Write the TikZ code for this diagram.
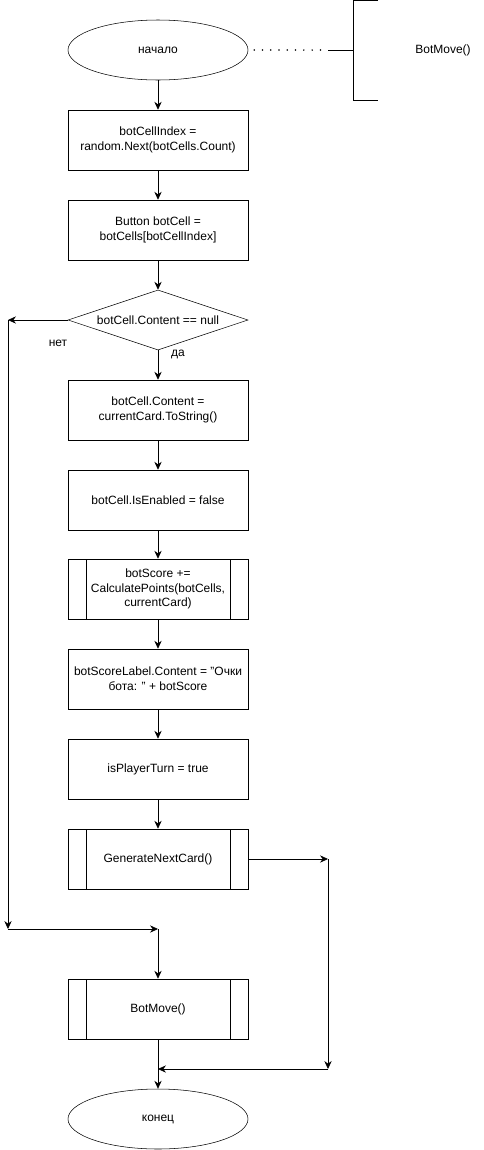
\documentclass[tikz,border=0pt]{standalone}
\usepackage{fontspec}
\setmainfont{Liberation Sans}
\usetikzlibrary{arrows.meta,shapes.geometric}

\tikzset{
  block/.style={draw, minimum width=135pt, minimum height=45pt, inner sep=1pt, align=center, font=\fontsize{9pt}{11pt}\selectfont},
  subproc/.style={block, path picture={
      \draw ([xshift=13.5pt]path picture bounding box.north west) -- ([xshift=13.5pt]path picture bounding box.south west);
      \draw ([xshift=-13.5pt]path picture bounding box.north east) -- ([xshift=-13.5pt]path picture bounding box.south east);}},
  term/.style={draw, ellipse, minimum width=135pt, minimum height=45pt, inner sep=0pt, font=\fontsize{9pt}{11pt}\selectfont},
  cond/.style={draw, diamond, aspect=3, minimum width=135pt, minimum height=45pt, inner sep=0pt, font=\fontsize{9pt}{11pt}\selectfont},
  lbl/.style={font=\fontsize{9pt}{11pt}\selectfont, inner sep=0.75pt},
  flow/.style={-{Stealth[length=6pt,width=5.5pt,inset=2pt]}, line width=0.6pt},
}

\begin{document}
\begin{tikzpicture}[x=0.75pt,y=0.75pt,yscale=-1,xscale=1]
        \useasboundingbox (0,0) rectangle (484,1150);

        % Blocks
        \node [term] (start) at (158,50) {начало};
        \node [block] (idx) at (158,140) {botCellIndex =\\random.Next(botCells.Count)};
        \node [block] (cell) at (158,230) {Button botCell =\\botCells[botCellIndex]};
        \node [cond] (chk) at (158,320) {botCell.Content == null};
        \node [block] (cont) at (158,410) {botCell.Content =\\currentCard.ToString()};
        \node [block] (dis) at (158,500) {botCell.IsEnabled = false};
        \node [subproc] (score) at (158,589) {botScore +=\\CalculatePoints(botCells,\\currentCard)};
        \node [block] (label) at (158,679) {botScoreLabel.Content = "Очки\\бота: " + botScore};
        \node [block] (turn) at (158,769) {isPlayerTurn = true};
        \node [subproc] (gen) at (158,859) {GenerateNextCard()};
        \node [subproc] (move) at (158,1009) {BotMove()};
        \node [term] (stop) at (158,1119) {конец};

        % Comment
        \node [lbl] (note) at (443,50) {BotMove()};
        \coordinate (dots) at (328,50);
        \coordinate (brk) at (353,50);
        \draw [line width=1.3pt, line cap=round, dash pattern=on 0pt off 6.2pt] (start.east) ++(6,0) -- (dots);
        \draw [line width=0.6pt] (dots) -- (brk);
        \draw [line width=0.6pt] (378,0.5) -- (353,0.5) -- (353,100) -- (378,100);

        % Main flow
        \draw [flow] (start) -- (idx);
        \draw [flow] (idx) -- (cell);
        \draw [flow] (cell) -- (chk);
        \draw [flow] (chk) -- (cont);
        \draw [flow] (cont) -- (dis);
        \draw [flow] (dis) -- (score);
        \draw [flow] (score) -- (label);
        \draw [flow] (label) -- (turn);
        \draw [flow] (turn) -- (gen);

        % Branch "no"
        \coordinate (noL) at (8,320);
        \coordinate (noB) at (8,929);
        \coordinate (joinA) at (158,929);
        \draw [flow] (chk.west) -- (noL);
        \draw [flow] (noL) -- (noB);
        \draw [flow] (noB) -- (joinA);
        \draw [flow] (joinA) -- (move);

        % Right side
        \coordinate (genR) at (328,859);
        \coordinate (genB) at (328,1069);
        \coordinate (joinB) at (158,1069);
        \draw [flow] (gen.east) -- (genR);
        \draw [flow] (genR) -- (genB);
        \draw [flow] (genB) -- (joinB);
        \draw [flow] (move) -- (stop);

        % Labels
        \node [lbl] (no) at (58,343) {нет};
        \node [lbl] (yes) at (178,354) {да};

\end{tikzpicture}
\end{document}
